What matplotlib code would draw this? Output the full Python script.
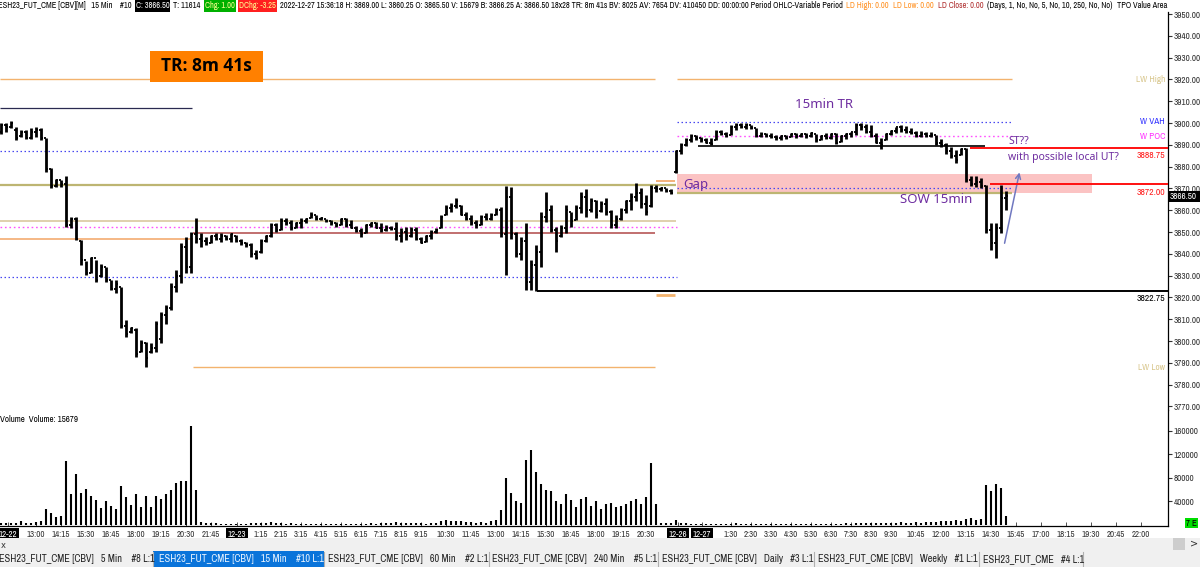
import matplotlib
matplotlib.use("Agg")
import matplotlib.pyplot as plt
from matplotlib import font_manager as fm
from matplotlib.patches import Rectangle

# 15 min bars, ESH23, 12-22 11:15 UTC .. 12-27 15:30 UTC
highs = [3900, 3900, 3901, 3898, 3897, 3897, 3897.5, 3898.25, 3897.5, 3893,
         3879.25, 3874.5, 3874, 3875.5, 3857, 3857, 3846.5, 3836.5, 3838.75, 3837,
         3835.5, 3834, 3828, 3828, 3825, 3809.5, 3806.5, 3805.75, 3800.5, 3799.75,
         3799, 3809, 3813.5, 3816.5, 3826.5, 3832.5, 3844.75, 3847.75, 3850, 3856.25,
         3849.5, 3847.75, 3848.5, 3849.5, 3849.5, 3848.5, 3849.5, 3848.5, 3847, 3845.5,
         3844.75, 3841.75, 3847, 3848.5, 3854, 3854, 3856.25, 3856.25, 3855.5, 3854.75,
         3856.25, 3856.25, 3859, 3857.75, 3857, 3856, 3855.5, 3854.75, 3856.25, 3856.25,
         3855.5, 3852.75, 3851.75, 3853.75, 3854.75, 3854.75, 3854, 3853.25, 3852.75, 3854.75,
         3851.75, 3852.5, 3852.5, 3852.5, 3847.75, 3848.5, 3851, 3851.75, 3857.75, 3862.5,
         3863.25, 3865.5, 3862.5, 3859.25, 3857.75, 3855.5, 3857.75, 3858.5, 3858.5, 3861,
         3861.5, 3871, 3870.75, 3850, 3847.75, 3854, 3837.25, 3844, 3859.25, 3868.5,
         3862.5, 3852.5, 3853.25, 3862.5, 3859.25, 3862.5, 3868.5, 3869.5, 3865.5, 3864.75,
         3864, 3865.5, 3860, 3857.75, 3861, 3864.75, 3867.75, 3872.25, 3870, 3867,
         3871.5, 3871.5, 3870.5, 3870, 3869.5, 3887.5, 3891, 3893, 3895, 3894.5,
         3893.75, 3893, 3893, 3896.75, 3896.75, 3896, 3899, 3900, 3900, 3900,
         3899, 3897.5, 3896, 3895.25, 3895.25, 3894.5, 3894.5, 3894.5, 3895.25, 3895.25,
         3895.25, 3895.25, 3895.75, 3895, 3894.5, 3895.25, 3895.25, 3895.25, 3894.5, 3895.25,
         3896, 3900, 3900, 3899.5, 3899, 3895.25, 3893, 3895.25, 3897, 3898.25,
         3899, 3898.5, 3897.5, 3896.5, 3896.5, 3896, 3896, 3894.5, 3892.5, 3890.75,
         3889, 3887.5, 3888.5, 3888.5, 3875.5, 3875.5, 3875, 3871.5, 3854, 3854,
         3871.5, 3869]
lows = [3895, 3896, 3897.5, 3892, 3893.5, 3892.5, 3892.5, 3893.75, 3892, 3877.75,
        3870, 3870.75, 3870.75, 3852.5, 3851.75, 3846.25, 3835, 3830.25, 3831, 3827,
        3829.5, 3827, 3823.5, 3822, 3805.75, 3802, 3803.5, 3792.75, 3795, 3788.25,
        3794.5, 3795, 3799, 3808, 3814, 3822.5, 3826.5, 3831, 3831, 3844.75,
        3843.25, 3844, 3844.75, 3846.25, 3845.5, 3846.25, 3845.5, 3845.5, 3844, 3843.25,
        3838.75, 3837.5, 3840.5, 3845.5, 3847.5, 3850, 3851, 3853.25, 3851, 3851.75,
        3851.75, 3854, 3856.25, 3855.5, 3855.5, 3854.75, 3853.25, 3852.5, 3853.25, 3852.5,
        3851.75, 3850, 3847.5, 3849.75, 3852.5, 3851.75, 3850, 3850.5, 3851, 3846.5,
        3845.5, 3846.25, 3847.75, 3846.25, 3844.75, 3845.5, 3847, 3849.5, 3851.75, 3857.75,
        3859.25, 3861, 3857.75, 3855.5, 3853.25, 3851.75, 3853.25, 3855.5, 3855.5, 3857.75,
        3847.75, 3830.25, 3847, 3838.75, 3837.25, 3823.5, 3823.25, 3822.75, 3834, 3854.75,
        3850, 3841, 3847.75, 3849.5, 3852.5, 3855.5, 3858.5, 3857, 3859.25, 3856.25,
        3859.25, 3857.75, 3851.75, 3851.75, 3855.5, 3858.5, 3860, 3864, 3861, 3857.75,
        3861.5, 3868.5, 3869, 3868.5, 3867.5, 3877, 3886, 3889.5, 3891.5, 3892.25,
        3891.5, 3890.75, 3890, 3892.25, 3894.5, 3893.75, 3894.5, 3896.75, 3897.5, 3897.25,
        3897.25, 3893.75, 3893.75, 3893.5, 3893, 3892.25, 3892.25, 3892.5, 3893.5, 3893,
        3893.5, 3893, 3893.75, 3891.5, 3892.25, 3892.5, 3892.5, 3890.5, 3891.5, 3892.5,
        3893.5, 3894.5, 3897, 3895.25, 3893.75, 3890.75, 3888, 3892.25, 3894.5, 3895.25,
        3896, 3895.5, 3895, 3893.75, 3893.75, 3893.75, 3893.5, 3890, 3889, 3886,
        3883.75, 3881.75, 3885.25, 3873, 3871, 3870.5, 3870, 3849.5, 3841.75, 3838,
        3849.5, 3860.25]
opens = [3896, 3899, 3898, 3897, 3894, 3896, 3893, 3896, 3897, 3893,
         3879, 3871, 3874, 3872, 3853, 3856, 3846, 3837, 3831, 3838,
         3830, 3834, 3828, 3824, 3825, 3807, 3804, 3805, 3795, 3799,
         3795, 3797, 3801, 3812, 3815, 3825, 3830, 3843, 3834, 3849,
         3847, 3846, 3845, 3848, 3847, 3848, 3847, 3848, 3846, 3845,
         3844, 3840, 3841, 3846, 3848, 3853, 3851, 3855, 3854, 3852,
         3854, 3855, 3856.25, 3858, 3856, 3856, 3855, 3854, 3853.25, 3856,
         3853, 3852, 3850.5, 3849.75, 3853, 3854, 3852, 3851, 3852, 3851.5,
         3848, 3850, 3848, 3851, 3847, 3845.5, 3848, 3850, 3851.75, 3858,
         3861, 3862, 3862, 3858, 3856, 3854, 3853.25, 3857, 3856, 3858,
         3860, 3849, 3866, 3849, 3840, 3846, 3827, 3835, 3841, 3857,
         3860, 3851, 3848, 3852, 3859, 3855.5, 3861, 3866, 3860, 3864,
         3859.5, 3863, 3859, 3853, 3856, 3860, 3864, 3866, 3868, 3863,
         3862, 3870, 3869.5, 3870, 3869, 3877.5, 3887, 3890, 3892, 3894,
         3893, 3892, 3891, 3892.25, 3896, 3895, 3894.5, 3898, 3899, 3898,
         3899, 3897.5, 3894, 3895, 3894, 3893.5, 3893, 3894, 3893.5, 3895,
         3894, 3895, 3894, 3895, 3892.25, 3894, 3893, 3895, 3891.5, 3894,
         3895, 3896, 3899, 3898, 3896, 3894, 3891, 3892.25, 3895, 3896.5,
         3898, 3897, 3896, 3895.5, 3894, 3895, 3894, 3894.5, 3891, 3890,
         3887, 3885, 3885.25, 3888, 3874, 3872, 3873, 3871, 3851, 3845,
         3852, 3865.5]
closes = [3899, 3898, 3900, 3893, 3896, 3893, 3896, 3897, 3893, 3879,
          3871, 3874, 3872, 3853, 3856, 3847, 3837, 3831, 3838, 3828,
          3834, 3828, 3824, 3826, 3807, 3803, 3806, 3794, 3799, 3792,
          3797, 3808, 3812, 3815, 3825, 3830, 3843, 3834, 3849, 3847,
          3846, 3845, 3848, 3847, 3848, 3847, 3849, 3846, 3845, 3844,
          3840, 3838, 3846, 3848, 3853, 3851, 3855, 3854, 3852, 3854,
          3855, 3856, 3858, 3856, 3856.5, 3855, 3854, 3853, 3856, 3853,
          3852, 3850.5, 3849, 3853, 3854, 3852, 3851, 3852, 3851.5, 3848,
          3850, 3848, 3851, 3847, 3845, 3848, 3850, 3851, 3857, 3861,
          3862, 3864, 3858, 3856, 3854, 3853, 3857, 3856, 3858, 3860,
          3849, 3866, 3849, 3840, 3846, 3827, 3835, 3841, 3857, 3860,
          3851, 3846, 3852, 3860, 3855, 3861, 3866, 3860, 3864, 3858,
          3863, 3859, 3853, 3856, 3860, 3864, 3866, 3868, 3863, 3859,
          3870, 3869.5, 3870, 3869, 3868, 3887, 3890, 3892, 3894, 3893,
          3892, 3891, 3890.5, 3896, 3895, 3894, 3898, 3899, 3898, 3899,
          3897.5, 3894, 3895, 3894, 3893.5, 3893, 3894, 3893, 3895, 3894,
          3895, 3894, 3895.5, 3892, 3894, 3893, 3895, 3891, 3894, 3895,
          3896, 3899, 3898, 3896, 3894, 3891, 3890, 3895, 3896.5, 3898,
          3897, 3896, 3895.5, 3894, 3895, 3894, 3894.5, 3891, 3890, 3887,
          3885, 3883, 3888, 3874, 3872, 3873, 3871, 3851, 3845, 3852,
          3865.5, 3866.5]
volumes = [3000, 4000, 3000, 4000, 7000, 4000, 4000, 5000, 7000, 27000,
           21000, 13600, 15000, 109000, 52000, 87000, 55000, 62000, 50000, 42000,
           29500, 41000, 32000, 28000, 66000, 48000, 34000, 52000, 31000, 49000,
           31000, 49000, 45000, 52000, 59000, 72000, 75000, 75000, 168000, 59000,
           5700, 4000, 3000, 4000, 2500, 1200, 2500, 2500, 1200, 2500,
           3500, 3500, 3500, 3500, 5000, 3500, 3500, 2500, 3000, 1200,
           2000, 1500, 2500, 1500, 1200, 2000, 1500, 1200, 2500, 1500,
           2000, 1500, 2500, 2000, 3000, 2500, 4000, 3500, 3000, 4500,
           3500, 4000, 3000, 3500, 3000, 2500, 3500, 3000, 6000, 8000,
           6000, 7000, 6000, 4500, 5000, 4000, 5000, 4000, 6000, 9000,
           25000, 80000, 55000, 40000, 38000, 110000, 128000, 90000, 70000, 60000,
           58000, 40000, 35000, 52000, 42000, 30000, 45000, 48000, 32000, 40000,
           28000, 35000, 38000, 30000, 32000, 35000, 40000, 45000, 35000, 48000,
           105000, 35000, 4000, 3000, 4000, 9000, 4000, 3000, 2500, 2000,
           2000, 1500, 1200, 2500, 2000, 1500, 2000, 3000, 2500, 2000,
           1500, 2000, 1500, 1200, 1500, 1200, 1500, 1200, 1500, 2000,
           1500, 2000, 1500, 2500, 2000, 2500, 2000, 1500, 2500, 3000,
           2500, 4000, 3500, 3000, 3500, 3000, 4000, 3500, 3000, 4000,
           4500, 3500, 4000, 5000, 4000, 5000, 4500, 5000, 6000, 6500,
           7000, 8000, 7000, 10000, 12000, 9000, 10000, 68000, 58000, 70000,
           63000, 15679]

tick_bars = [1.4, 7, 12, 17, 22, 27, 32, 37, 42, 47.2, 52, 56, 60, 64, 68, 72, 76, 80, 84,
             89, 94, 99, 104, 109, 114, 119, 124, 129, 135.4, 140.2, 146, 150, 154, 158, 162,
             166, 170, 174, 178, 183, 188, 193, 198, 203, 208, 213, 218, 223, 228]
tick_labels = ['12-22', '13:00', '14:15', '15:30', '16:45', '18:00', '19:15', '20:30', '21:45',
               '12-23', '1:15', '2:15', '3:15', '4:15', '5:15', '6:15', '7:15', '8:15', '9:15',
               '10:30', '11:45', '13:00', '14:15', '15:30', '16:45', '18:00', '19:15', '20:30',
               '12-26', '12-27', '1:30', '2:30', '3:30', '4:30', '5:30', '6:30', '7:30', '8:30',
               '9:30', '10:45', '12:00', '13:15', '14:30', '15:45', '17:00', '18:15', '19:30',
               '20:45', '22:00']
price_ticks = [3770, 3780, 3790, 3800, 3810, 3820, 3830, 3840, 3850, 3860,
               3870, 3880, 3890, 3900, 3910, 3920, 3930, 3940, 3950]
vol_ticks = [40000, 80000, 120000, 160000]

# reference levels
lw_high = 3920.0
lw_low = 3788.0
w_vah = 3900.5
w_poc = 3894.0
tr_low = 3889.4
st_level = 3888.75
ut_level = 3872.00
spring_low = 3822.75

W, H = 1200, 567
UI = ['Noto Sans', 'DejaVu Sans']
PURPLE = '#6E2DA0'

# a narrow face for the small platform text, if one is installed
cands = [f for f in fm.fontManager.ttflist
         if f.stretch in ('condensed', 'semi-condensed', 'extra-condensed')
         and f.style == 'normal' and str(f.weight) in ('400', 'normal', 'regular', 'book')]
cands.sort(key=lambda f: (0 if 'Narrow' in f.name else 1 if 'Roboto' in f.name
                          else 2 if 'DejaVu' in f.name else 3))
if cands:
    SMALL = fm.FontProperties(fname=cands[0].fname)
else:
    SMALL = fm.FontProperties(family=['Liberation Sans', 'DejaVu Sans'])


def fx(px):
    return px / W


def fy(py):
    return 1 - py / H


def small(t, size):
    t.set_fontproperties(SMALL.copy())
    t.set_fontsize(size)
    return t


fig = plt.figure(figsize=(12, 5.67), dpi=100)
fig.patch.set_facecolor('white')
renderer = fig.canvas.get_renderer()


def fit_size(s, width, cap=9.0):
    t = small(fig.text(0, 0, s), 8)
    w = t.get_window_extent(renderer).width
    t.remove()
    return min(8 * width / w, cap)


AX_SIZE = fit_size('3950.00', 27.5)
XT_SIZE = fit_size('16:45', 18.5)
LBL_SIZE = fit_size('3888.75', 29)
TAG_SIZE = fit_size('LW High', 29)

ax = fig.add_axes([0, fy(410), fx(1168), (410 - 12) / H])
axv = fig.add_axes([0, fy(526), fx(1168), (526 - 410) / H], sharex=ax)
ax.set_xlim(-0.2, 233.4)
ax.set_ylim(3768.35, 3950.92)
axv.set_ylim(-1700, 195700)

for a in (ax, axv):
    for s in ('left', 'top', 'bottom'):
        a.spines[s].set_visible(False)
    a.spines['right'].set_linewidth(0.9)
axv.spines['bottom'].set_visible(True)
axv.spines['bottom'].set_linewidth(0.9)

bars = list(range(len(highs)))

# OHLC bars
ax.vlines(bars, lows, highs, color='black', lw=2.0, zorder=4)
ax.hlines(opens, [b - 0.4 for b in bars], bars, color='black', lw=1.3, zorder=4)
ax.hlines(closes, bars, [b + 0.4 for b in bars], color='black', lw=1.3, zorder=4)

axv.vlines(bars, 0, volumes, color='black', lw=1.5)

# level lines
dot = (0, (1.2, 2.0))
ax.hlines(lw_high, -0.2, 130.8, color='#F3B36E', lw=1.0)
ax.hlines(lw_high, 135.2, 202.2, color='#F3B36E', lw=1.0)
ax.hlines(3907.0, -0.2, 38.2, color='#2A2A50', lw=0.9)
ax.hlines(3887.2, -0.2, 135.2, color='#4848F0', lw=0.9, linestyles=[dot])
ax.hlines(3871.6, -0.2, 135.0, color='#BDB572', lw=1.6)
ax.hlines(3855.0, -0.2, 135.0, color='#D9C8A0', lw=1.2)
ax.hlines(3852.3, -0.2, 135.2, color='#FF50FF', lw=1.0, linestyles=[dot])
ax.hlines(3846.6, -0.2, 38.4, color='#F2A465', lw=1.1)
ax.hlines(3849.4, 38.4, 130.8, color='#B04848', lw=1.1)
ax.hlines(3829.4, -0.2, 135.2, color='#4848F0', lw=0.9, linestyles=[dot])
ax.hlines(lw_low, 38.4, 130.8, color='#F3B36E', lw=1.0)
ax.hlines(3821.0, 131.0, 134.8, color='#F3B36E', lw=2.0)
ax.hlines(3873.2, 131.0, 134.8, color='#F2A465', lw=1.2)
ax.hlines(spring_low, 107.2, 233.4, color='black', lw=1.4, zorder=5)

ax.add_patch(Rectangle((135.2, 3867.9), 83.0, 8.7, facecolor='#FBC3C3',
                       edgecolor='none', zorder=1))
ax.hlines(w_vah, 135.2, 202.2, color='#4848F0', lw=0.9, linestyles=[dot])
ax.hlines(w_poc, 135.2, 202.2, color='#FF50FF', lw=1.0, linestyles=[dot])
ax.hlines(3870.0, 135.2, 202.2, color='#4848F0', lw=0.9, linestyles=[dot], zorder=2)
ax.hlines(3868.0, 135.2, 202.2, color='#BDB572', lw=1.6, zorder=2)
ax.hlines(tr_low, 139.4, 196.8, color='black', lw=1.2, zorder=5)
ax.hlines(st_level, 193.8, 233.4, color='#FF1010', lw=1.4, zorder=5)
ax.hlines(ut_level, 197.8, 233.4, color='#FF1010', lw=1.4, zorder=5)

# annotations
ax.text(164.6, 3908.3, '15min TR', color=PURPLE, fontsize=9.5, family=UI,
        ha='center', va='center')
ax.text(136.4, 3871.8, 'Gap', color=PURPLE, fontsize=9.5, family=UI,
        ha='left', va='center', zorder=6)
ax.text(179.8, 3864.7, 'SOW 15min', color=PURPLE, fontsize=9.5, family=UI,
        ha='left', va='center')
ax.text(201.4, 3891.7, 'ST??', color=PURPLE, fontsize=7.5, family=UI,
        ha='left', va='center')
ax.text(201.4, 3884.4, 'with possible local UT?', color=PURPLE, fontsize=7.5, family=UI,
        ha='left', va='center')
ax.annotate('', xy=(203.8, 3878.6), xytext=(200.6, 3843.6),
            arrowprops=dict(arrowstyle='->', color='#7078C0', lw=1.1, mutation_scale=9))

ax.add_patch(Rectangle((29.8, 3918.8), 22.6, 14.2, facecolor='#FF8000',
                       edgecolor='none', zorder=6))
ax.text(41.1, 3926.0, 'TR: 8m 41s', color='black', fontsize=12.5, fontweight='bold',
        family=['Open Sans', 'DejaVu Sans'], ha='center', va='center', zorder=7)

# right side labels
rx = 232.8
for yv, s, c in [(lw_high, 'LW High', '#D8C68C'), (w_vah, 'W VAH', '#3030FF'),
                 (w_poc, 'W POC', '#FF30FF'), (3885.3, '%.2f' % st_level, '#FF2020'),
                 (3868.3, '%.2f' % ut_level, '#FF2020'), (3819.3, '%.2f' % spring_low, 'black'),
                 (lw_low, 'LW Low', '#D8C68C')]:
    big = s[0].isdigit()
    small(ax.text(rx, yv, s, color=c, ha='right', va='center'),
          LBL_SIZE if big else TAG_SIZE)

# axes ticks
ax.yaxis.tick_right()
ax.set_yticks(price_ticks)
ax.set_yticklabels(['%.2f' % p for p in price_ticks])
ax.tick_params(axis='y', length=3, width=0.8, pad=1, colors='#333333')
ax.tick_params(axis='x', bottom=False, labelbottom=False)

axv.yaxis.tick_right()
axv.set_yticks(vol_ticks)
axv.set_yticklabels(['%d' % v for v in vol_ticks])
axv.tick_params(axis='y', length=3, width=0.8, pad=1, colors='#333333')
axv.set_xticks(tick_bars)
axv.set_xticklabels(tick_labels)
axv.tick_params(axis='x', direction='in', length=3, width=0.6, pad=3, colors='#333333')
for lbl in ax.get_yticklabels() + axv.get_yticklabels():
    small(lbl, AX_SIZE)
for lbl in axv.get_xticklabels():
    small(lbl, XT_SIZE)
    if '-' in lbl.get_text():
        lbl.set_color('white')
        lbl.set_bbox(dict(facecolor='black', edgecolor='none', pad=1.2))

# current price box
cp = closes[-1]
ypix = 14 + (3950 - cp) * 2.18
fig.patches.append(Rectangle((fx(1169), fy(ypix + 5.5)), 31 / W, 11 / H,
                             transform=fig.transFigure, facecolor='black',
                             edgecolor='none', zorder=5))
small(fig.text(fx(1170), fy(ypix), '%.2f' % cp, color='white', ha='left', va='center',
               zorder=6), AX_SIZE)

small(axv.text(0.0, 0.92, 'Volume  Volume: %d' % volumes[-1], transform=axv.transAxes,
               ha='left', va='center'), XT_SIZE)


def line_of_text(pieces, y, ref, bh=12, gap=4):
    # one common size fitted on the reference piece, pieces flow left to right
    size = fit_size(ref[2], ref[1] - ref[0])
    end = -100
    for x, s, color, box in pieces:
        x = max(x, end + gap)
        t = small(fig.text(fx(x), fy(y), s, color=color, ha='left', va='center', zorder=3),
                  size)
        w = t.get_window_extent(renderer).width
        end = x + w
        if box is not None:
            fig.patches.append(Rectangle((fx(x - 1), fy(y + bh / 2)), (w + 2) / W, bh / H,
                                         transform=fig.transFigure, facecolor=box,
                                         edgecolor='none', zorder=1))


long_hdr = ('2022-12-27 15:36:18 H: 3869.00 L: 3860.25 O: 3865.50 V: 15679 '
            'B: 3866.25 A: 3866.50 18x28 TR: 8m 41s BV: 8025 AV: 7654 DV: 410450 '
            'DD: 00:00:00 Period OHLC-Variable Period')
line_of_text([(-2, 'ESH23_FUT_CME [CBV][M]   15 Min    #10', 'black', None),
              (132, 'C: 3866.50', 'white', 'black'),
              (166, 'T: 11614', 'black', None),
              (195, 'Chg: 1.00', '#FFFF90', '#00B000'),
              (229, 'DChg: -3.25', '#FFFF90', '#FF2020'),
              (269, long_hdr, 'black', None),
              (835, 'LD High: 0.00', '#FF9020', None),
              (879, 'LD Low: 0.00', '#FF9020', None),
              (917, 'LD Close: 0.00', '#B03030', None),
              (983, '(Days, 1, No, No, 5, No, 10, 250, No, No)', 'black', None),
              (1114, 'TPO Value Area', 'black', None)],
             6, (269, 834, long_hdr))

# bottom strip: scroll row and tabs
fig.patches.append(Rectangle((0, fy(567)), 1, 29 / H, transform=fig.transFigure,
                             facecolor='#F0F0F0', edgecolor='none', zorder=0))
fig.patches.append(Rectangle((fx(1173), fy(550)), 12 / W, 12 / H, transform=fig.transFigure,
                             facecolor='#CDCDCD', edgecolor='none', zorder=1))
fig.text(fx(1190), fy(544), '>', fontsize=7, ha='left', va='center', color='#333333')
fig.text(fx(1), fy(545), 'x', fontsize=6, ha='left', va='center', color='#333333')
fig.patches.append(Rectangle((fx(1185), fy(528)), 13 / W, 10 / H, transform=fig.transFigure,
                             facecolor='#00DD00', edgecolor='none', zorder=1))
small(fig.text(fx(1191.5), fy(523), '7 E', ha='center', va='center', color='black',
               zorder=2), XT_SIZE)

tabs = [(-1, 150, 'ESH23_FUT_CME [CBV]   5 Min    #8 L:1'),
        (156, 321, 'ESH23_FUT_CME [CBV]   15 Min    #10 L:1'),
        (328, 486, 'ESH23_FUT_CME [CBV]   60 Min    #2 L:1'),
        (492, 655, 'ESH23_FUT_CME [CBV]   240 Min    #5 L:1'),
        (662, 811, 'ESH23_FUT_CME [CBV]   Daily   #3 L:1'),
        (818, 976, 'ESH23_FUT_CME [CBV]   Weekly   #1 L:1'),
        (983, 1080, 'ESH23_FUT_CME   #4 L:1')]
fig.patches.append(Rectangle((fx(153), fy(567)), 171 / W, 16 / H, transform=fig.transFigure,
                             facecolor='#0A74DA', edgecolor='none', zorder=1))
line_of_text([(x0, s, '#EAF4FF' if i == 1 else '#222222', None)
              for i, (x0, x1, s) in enumerate(tabs)], 559, tabs[1])
for x0, x1, s in tabs:
    fig.add_artist(plt.Line2D([fx(x1 + 3), fx(x1 + 3)], [fy(566), fy(552)],
                              color='#B0B0B0', lw=0.8))

fig.savefig('out.png', dpi=100, facecolor='white')
